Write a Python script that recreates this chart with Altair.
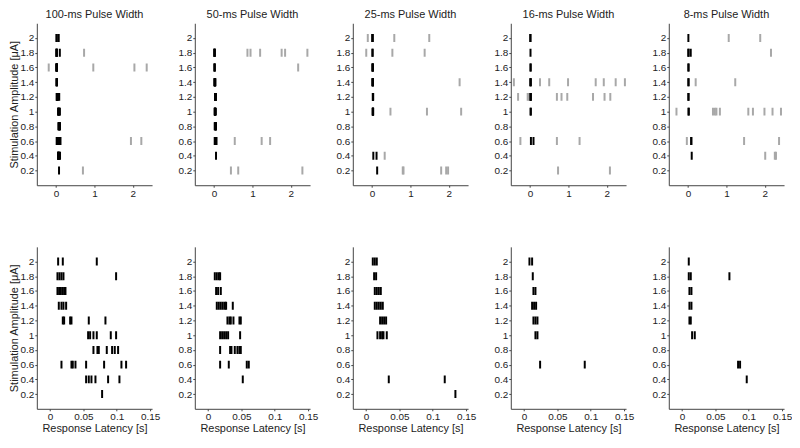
import altair as alt
import pandas as pd

PANELS = ["100-ms Pulse Width", "50-ms Pulse Width", "25-ms Pulse Width",
          "16-ms Pulse Width", "8-ms Pulse Width"]
AMPLITUDES = [2.0, 1.8, 1.6, 1.4, 1.2, 1.0, 0.8, 0.6, 0.4, 0.2]
TOP_X_TICKS = [0, 1, 2]
BOTTOM_X_TICKS = [0, 0.05, 0.1, 0.15]

# early responses (black), one list per amplitude (2.0 ... 0.2)
EARLY_100 = [
    [0.012, 0.019, 0.070],
    [0.011, 0.014, 0.017, 0.020, 0.099],
    [0.011, 0.0135, 0.016, 0.0185, 0.021, 0.023],
    [0.013, 0.017, 0.020, 0.024],
    [0.019, 0.021, 0.030, 0.032, 0.058, 0.083],
    [0.057, 0.060, 0.065, 0.070, 0.091, 0.099],
    [0.065, 0.071, 0.073, 0.085, 0.093, 0.097, 0.102],
    [0.017, 0.032, 0.034, 0.038, 0.054, 0.081, 0.107, 0.114],
    [0.054, 0.058, 0.062, 0.068, 0.087, 0.104],
    [0.078],
]
LATE_100 = [[], [0.73], [-0.19, 0.97, 2.04, 2.36], [], [], [], [],
            [1.95, 2.22], [], [0.70]]

EARLY_50 = [
    [],
    [0.010, 0.013, 0.016, 0.018],
    [0.012, 0.015, 0.019],
    [0.013, 0.016, 0.019, 0.022, 0.025, 0.027, 0.037],
    [0.029, 0.032, 0.034, 0.038, 0.047, 0.049],
    [0.018, 0.021, 0.024, 0.027, 0.030, 0.048],
    [0.018, 0.033, 0.035, 0.040, 0.044, 0.047, 0.049],
    [0.018, 0.031, 0.058, 0.061],
    [0.052],
    [],
]
LATE_50 = [[], [0.87, 0.95, 1.20, 1.76, 1.85, 2.43], [2.19], [], [], [], [],
           [0.54, 1.24, 1.46], [], [0.44, 0.63, 2.30]]

EARLY_25 = [
    [0.010, 0.013, 0.016],
    [0.012, 0.015],
    [0.013, 0.016, 0.019, 0.022],
    [0.013, 0.016, 0.019, 0.022, 0.025],
    [0.021, 0.024, 0.027, 0.030],
    [0.017, 0.021, 0.024, 0.026, 0.031],
    [],
    [],
    [0.034, 0.118],
    [0.134],
]
LATE_25 = [[-0.11, 0.58, 1.49], [-0.15, 0.53, 1.37], [], [2.28], [],
           [0.48, 1.43, 2.32], [], [], [0.33], [0.80, 0.82, 1.80, 1.93, 1.98]]

EARLY_16 = [
    [0.008, 0.012],
    [0.013],
    [0.014, 0.017],
    [0.012, 0.015, 0.018],
    [0.014, 0.017, 0.020],
    [0.017, 0.020],
    [],
    [0.024, 0.091],
    [],
    [],
]
LATE_16 = [[], [], [], [-0.42, 0.26, 0.50, 0.99, 1.71, 1.92, 2.23, 2.47],
           [-0.31, -0.06, -0.03, 0.70, 0.82, 0.97, 1.64, 1.94, 2.09], [], [],
           [-0.25, 0.70, 1.29], [], [0.73, 2.08]]

EARLY_8 = [
    [0.010],
    [0.010, 0.013, 0.071],
    [0.011, 0.014],
    [0.011, 0.014],
    [0.011, 0.013],
    [0.015, 0.019],
    [],
    [0.084, 0.087],
    [0.097],
    [],
]
LATE_8 = [[1.06, 1.88], [2.16], [], [0.20, 1.23], [],
          [-0.30, 0.65, 0.70, 0.74, 0.83, 1.57, 1.69, 1.99, 2.20, 2.42], [],
          [-0.03, 1.46, 2.37], [2.01, 2.26, 2.29], []]

EARLY = [EARLY_100, EARLY_50, EARLY_25, EARLY_16, EARLY_8]
LATE = [LATE_100, LATE_50, LATE_25, LATE_16, LATE_8]

rows = []
for name, early, late in zip(PANELS, EARLY, LATE):
    for amp, e_list, l_list in zip(AMPLITUDES, early, late):
        for v in l_list:
            rows.append({"panel": name, "amp": amp, "t": v, "kind": "late"})
        for v in e_list:
            rows.append({"panel": name, "amp": amp, "t": v, "kind": "early"})
df = pd.DataFrame(rows)

W, H = 116, 163
FONT = "Liberation Sans"
YTITLE = "Stimulation Amplitude [\u03bcA]"

color = alt.Color("kind:N", scale=alt.Scale(domain=["early", "late"],
                                            range=["#000000", "#a8a8a8"]), legend=None)


def y_enc(i):
    if i == 0:
        ax = alt.Axis(values=AMPLITUDES, format="~g", title=YTITLE)
    else:
        ax = alt.Axis(values=AMPLITUDES, format="~g", title=None)
    return alt.Y("amp:Q", scale=alt.Scale(domain=[0, 2.2], nice=False, zero=False), axis=ax)


top = []
bottom = []
for i, name in enumerate(PANELS):
    t = alt.Chart(df).transform_filter(alt.datum.panel == name).mark_tick(
        orient="vertical", thickness=2, size=8, clip=True, opacity=1
    ).encode(
        x=alt.X("t:Q", scale=alt.Scale(domain=[-0.5, 2.5], nice=False, zero=False),
                axis=alt.Axis(values=TOP_X_TICKS, format="~g", title=None)),
        y=y_enc(i),
        color=color,
    ).properties(width=W, height=H, title=name)
    top.append(t)

    b = alt.Chart(df).transform_filter(
        (alt.datum.panel == name) & (alt.datum.kind == "early")
    ).mark_tick(orient="vertical", thickness=2, size=8, clip=True, opacity=1).encode(
        x=alt.X("t:Q", scale=alt.Scale(domain=[-0.02, 0.153], nice=False, zero=False),
                axis=alt.Axis(values=BOTTOM_X_TICKS, format="~g",
                              title="Response Latency [s]")),
        y=y_enc(i),
        color=color,
    ).properties(width=W, height=H)
    bottom.append(b)

top_row = alt.hconcat(*top, spacing=43, bounds="flush")
bottom_row = alt.hconcat(*bottom, spacing=43, bounds="flush")

chart = alt.vconcat(top_row, bottom_row, spacing=49).properties(
    padding=0
).configure_view(stroke=None).configure_axis(
    grid=False,
    domainColor="#444444",
    tickColor="#444444",
    tickSize=2,
    labelFont=FONT,
    labelFontSize=10,
    labelColor="#222222",
    labelPadding=1,
    titleFont=FONT,
    titleFontSize=11,
    titleFontWeight="normal",
    titleColor="#222222",
    titlePadding=1,
).configure_title(
    font=FONT, fontSize=11, fontWeight="normal", color="#222222", offset=3
)

chart.save("out.html", embed_options={"renderer": "svg", "actions": False})
